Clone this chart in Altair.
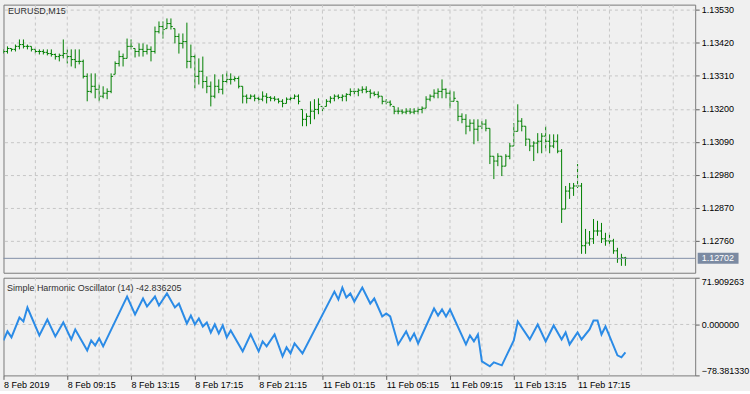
import json
import altair as alt
import pandas as pd

# ---------------- data ----------------
symbol_title = "EURUSD,M15"
osc_title = "Simple Harmonic Oscillator (14) -42.836205"
current_price = 1.12702

bar_index = list(range(157))

open_ = [
 1.13388,1.13391,1.13401,1.13398,1.13408,1.13414,1.13408,1.13408,1.13398,1.13391,
 1.13391,1.13388,1.13384,1.13381,1.13374,1.13378,1.13384,1.13374,1.13364,1.13358,
 1.13358,1.13308,1.13258,1.13275,1.13265,1.13242,1.13252,1.13258,1.13315,1.13351,
 1.13374,1.13368,1.13408,1.13401,1.13391,1.13398,1.13391,1.13398,1.13391,1.13457,
 1.13474,1.13467,1.13484,1.13467,1.13441,1.13418,1.13424,1.13358,1.13374,1.13308,
 1.13325,1.13291,1.13275,1.13242,1.13275,1.13265,1.13291,1.13298,1.13298,1.13301,
 1.13275,1.13242,1.13235,1.13242,1.13235,1.13232,1.13242,1.13238,1.13235,1.13232,
 1.13225,1.13218,1.13232,1.13235,1.13242,1.13198,1.13165,1.13175,1.13192,1.13198,
 1.13208,1.13208,1.13225,1.13235,1.13242,1.13238,1.13242,1.13248,1.13258,1.13258,
 1.13262,1.13265,1.13258,1.13252,1.13248,1.13242,1.13225,1.13222,1.13208,1.13192,
 1.13192,1.13189,1.13192,1.13189,1.13192,1.13198,1.13202,1.13232,1.13242,1.13252,
 1.13258,1.13265,1.13252,1.13225,1.13225,1.13175,1.13165,1.13142,1.13152,1.13132,
 1.13142,1.13149,1.13135,1.13042,1.13026,1.13042,1.13009,1.13042,1.13076,1.13125,
 1.13159,1.13142,1.13099,1.13076,1.13086,1.13092,1.13109,1.13092,1.13076,1.13092,
 1.13059,1.12866,1.12926,1.12936,1.12943,1.12943,1.12744,1.12753,1.12767,1.12793,
 1.12793,1.12767,1.12760,1.12760,1.12727,1.12701,1.12704]

high = [
 1.13398,1.13408,1.13401,1.13414,1.13431,1.13431,1.13414,1.13408,1.13401,1.13398,
 1.13398,1.13398,1.13398,1.13384,1.13384,1.13431,1.13398,1.13398,1.13398,1.13398,
 1.13364,1.13318,1.13318,1.13318,1.13281,1.13275,1.13268,1.13318,1.13358,1.13394,
 1.13384,1.13434,1.13431,1.13401,1.13418,1.13418,1.13414,1.13408,1.13474,1.13491,
 1.13491,1.13501,1.13501,1.13467,1.13451,1.13451,1.13487,1.13414,1.13381,1.13368,
 1.13374,1.13308,1.13291,1.13315,1.13298,1.13315,1.13325,1.13318,1.13308,1.13308,
 1.13275,1.13248,1.13248,1.13248,1.13242,1.13258,1.13252,1.13242,1.13242,1.13235,
 1.13232,1.13238,1.13242,1.13248,1.13248,1.13198,1.13185,1.13225,1.13232,1.13235,
 1.13208,1.13232,1.13242,1.13248,1.13248,1.13248,1.13252,1.13268,1.13268,1.13268,
 1.13275,1.13275,1.13265,1.13258,1.13258,1.13242,1.13232,1.13228,1.13208,1.13205,
 1.13198,1.13202,1.13202,1.13202,1.13205,1.13208,1.13242,1.13248,1.13265,1.13268,
 1.13298,1.13268,1.13262,1.13258,1.13225,1.13185,1.13182,1.13165,1.13165,1.13165,
 1.13159,1.13165,1.13135,1.13042,1.13052,1.13042,1.13049,1.13086,1.13152,1.13215,
 1.13169,1.13142,1.13099,1.13092,1.13119,1.13119,1.13142,1.13115,1.13115,1.13115,
 1.13066,1.12943,1.12953,1.12953,1.13016,1.12953,1.12800,1.12793,1.12833,1.12827,
 1.12820,1.12787,1.12787,1.12767,1.12737,1.12717,1.12707]

low = [
 1.13384,1.13384,1.13391,1.13391,1.13398,1.13401,1.13398,1.13391,1.13384,1.13381,
 1.13381,1.13378,1.13374,1.13364,1.13358,1.13368,1.13351,1.13341,1.13335,1.13348,
 1.13301,1.13225,1.13252,1.13235,1.13225,1.13235,1.13232,1.13252,1.13315,1.13341,
 1.13341,1.13368,1.13398,1.13371,1.13374,1.13374,1.13381,1.13358,1.13384,1.13451,
 1.13434,1.13467,1.13464,1.13418,1.13384,1.13401,1.13335,1.13335,1.13268,1.13281,
 1.13268,1.13252,1.13208,1.13235,1.13252,1.13248,1.13285,1.13281,1.13291,1.13268,
 1.13218,1.13218,1.13232,1.13225,1.13218,1.13225,1.13218,1.13225,1.13225,1.13218,
 1.13205,1.13218,1.13225,1.13232,1.13215,1.13142,1.13142,1.13149,1.13165,1.13182,
 1.13192,1.13208,1.13218,1.13225,1.13232,1.13225,1.13225,1.13242,1.13248,1.13242,
 1.13252,1.13252,1.13235,1.13242,1.13235,1.13215,1.13215,1.13208,1.13182,1.13182,
 1.13182,1.13182,1.13182,1.13182,1.13182,1.13185,1.13202,1.13225,1.13235,1.13235,
 1.13235,1.13235,1.13202,1.13225,1.13159,1.13152,1.13115,1.13125,1.13082,1.13092,
 1.13132,1.13125,1.13016,1.12966,1.13009,1.12976,1.13009,1.13032,1.13076,1.13125,
 1.13125,1.13076,1.13059,1.13026,1.13052,1.13052,1.13059,1.13052,1.13069,1.13052,
 1.12820,1.12866,1.12900,1.12910,1.12936,1.12717,1.12717,1.12744,1.12750,1.12777,
 1.12753,1.12744,1.12750,1.12717,1.12687,1.12677,1.12677]

close = [
 1.13391,1.13401,1.13398,1.13408,1.13414,1.13408,1.13408,1.13398,1.13391,1.13391,
 1.13388,1.13384,1.13381,1.13374,1.13378,1.13384,1.13374,1.13364,1.13358,1.13358,
 1.13308,1.13258,1.13275,1.13265,1.13242,1.13252,1.13258,1.13308,1.13351,1.13374,
 1.13368,1.13408,1.13408,1.13391,1.13398,1.13391,1.13398,1.13391,1.13457,1.13474,
 1.13464,1.13484,1.13474,1.13441,1.13418,1.13424,1.13358,1.13374,1.13308,1.13325,
 1.13291,1.13275,1.13242,1.13275,1.13265,1.13291,1.13298,1.13298,1.13301,1.13275,
 1.13242,1.13235,1.13242,1.13235,1.13232,1.13242,1.13238,1.13235,1.13232,1.13225,
 1.13218,1.13232,1.13235,1.13242,1.13225,1.13165,1.13175,1.13192,1.13198,1.13215,
 1.13202,1.13225,1.13235,1.13242,1.13238,1.13242,1.13248,1.13258,1.13258,1.13262,
 1.13265,1.13258,1.13252,1.13248,1.13242,1.13225,1.13222,1.13215,1.13192,1.13192,
 1.13189,1.13192,1.13189,1.13192,1.13198,1.13202,1.13232,1.13242,1.13252,1.13258,
 1.13265,1.13252,1.13225,1.13235,1.13175,1.13165,1.13142,1.13152,1.13132,1.13142,
 1.13149,1.13135,1.13042,1.13026,1.13042,1.13009,1.13042,1.13076,1.13125,1.13159,
 1.13142,1.13099,1.13076,1.13086,1.13092,1.13109,1.13092,1.13076,1.13092,1.13059,
 1.12866,1.12926,1.12936,1.12943,1.12943,1.12744,1.12753,1.12767,1.12793,1.12793,
 1.12767,1.12760,1.12760,1.12727,1.12701,1.12704,1.12702]

osc_index = [
 0,1,2,4,5,6,9,11,13,15,
 17,18,21,22,23,24,25,31,33,35,
 36,38,39,41,43,44,46,47,48,49,
 50,51,52,53,54,55,56,57,60,62,
 64,65,66,68,70,71,72,73,75,83,
 84,85,86,87,88,90,92,93,95,96,
 97,99,101,102,103,104,108,109,110,111,
 112,116,117,118,119,120,122,123,125,128,
 129,132,134,136,138,140,141,142,144,145,
 147,148,149,150,151,154,155,156]
osc_value = [
 -24.5,-10.7,-19.9,10.7,4.6,26.1,-16.9,7.7,-18.4,3.1,
 -23.0,-7.7,-39.9,-24.5,-32.2,-21.5,-33.7,43.0,15.3,39.9,
 27.6,43.0,29.1,47.6,26.1,32.2,1.5,13.8,0.0,9.2,
 -3.1,3.1,-12.3,0.0,-13.8,-1.5,-19.9,-9.2,-41.4,-15.3,
 -41.4,-26.1,-33.7,-15.3,-49.1,-35.3,-44.5,-29.1,-44.5,50.6,
 38.4,56.8,41.4,47.6,35.3,56.8,32.2,39.9,12.3,16.9,
 12.3,-30.7,-10.7,-24.5,-13.8,-29.1,24.5,13.8,23.0,12.3,
 23.0,-30.7,-16.9,-26.1,-15.3,-56.8,-64.4,-58.3,-62.9,-24.5,
 4.6,-23.0,0.0,-26.1,-1.5,-23.0,-12.3,-30.7,-12.3,-23.0,
 -7.7,6.1,6.1,-15.3,-3.1,-47.6,-50.6,-42.836205]

price_ticks = [1.13530, 1.13420, 1.13310, 1.13200, 1.13090, 1.12980, 1.12870, 1.12760]
osc_ticks = [71.909263, 0.0, -78.381330]
time_tick_index = [0, 16, 32, 48, 64, 80, 96, 112, 128, 144]
time_labels = ["8 Feb 2019", "8 Feb 09:15", "8 Feb 13:15", "8 Feb 17:15", "8 Feb 21:15",
               "11 Feb 01:15", "11 Feb 05:15", "11 Feb 09:15", "11 Feb 13:15", "11 Feb 17:15"]
grid_index = list(range(8, 174, 8))

# ---------------- styling ----------------
W = 694
H_MAIN = 269
H_OSC = 98
FONT = "Liberation Sans"
BG = "#f0f0f0"
GRID = "#c6c6c6"
BAR = "#008000"
LINE = "#2b8be6"
PRICE_LINE = "#8290a8"

xs = alt.Scale(domain=[0, 173.5], nice=False, zero=False)
ys = alt.Scale(domain=[1.12654, 1.13547], nice=False, zero=False)
oys = alt.Scale(domain=[-78.381330, 71.909263], nice=False, zero=False)

bars = pd.DataFrame({"i": bar_index, "open": open_, "high": high, "low": low, "close": close})

price_axis = alt.Axis(orient="right", values=price_ticks, format=".5f", grid=True,
                      gridDash=[3, 3], gridColor=GRID, tickSize=4, tickColor="#606060",
                      domain=False, labelFont=FONT, labelFontSize=9, labelColor="#000000",
                      labelPadding=2, title=None, labelOverlap=False)

label_js = json.dumps(time_labels)
x_axis = alt.Axis(values=time_tick_index, labelExpr=f"{label_js}[round(datum.value/16)]",
                  tickSize=4, tickColor="#606060", labelAlign="left", labelBaseline="top",
                  labelPadding=1, domain=False, grid=False, labelFont=FONT, labelFontSize=9,
                  labelColor="#000000", title=None, labelOverlap=False, labelFlush=False,
                  labelBound=False)
osc_axis = alt.Axis(orient="right", values=osc_ticks, format=".6f", grid=False, tickSize=4,
                    tickColor="#606060", domain=False, labelFont=FONT, labelFontSize=9,
                    labelColor="#000000", labelPadding=2, title=None, labelOverlap=False,
                    labelBaseline={"condition": [{"test": "datum.value > 1", "value": "top"},
                                                 {"test": "datum.value < -1", "value": "bottom"}],
                                   "value": "middle"})

# main panel
vgrid = alt.Chart(pd.DataFrame({"g": grid_index})).mark_rule(
    color=GRID, strokeDash=[3, 3], strokeWidth=1
).encode(x=alt.X("g:Q", scale=xs, axis=None))

hl = alt.Chart(bars).mark_rule(color=BAR, strokeWidth=1, clip=True).encode(
    x=alt.X("i:Q", scale=xs, axis=None),
    y=alt.Y("low:Q", scale=ys, axis=price_axis),
    y2="high:Q",
)
open_tick = alt.Chart(bars).transform_calculate(xl="datum.i - 0.45").mark_rule(
    color=BAR, strokeWidth=1, clip=True).encode(
    x=alt.X("xl:Q", scale=xs, axis=None), x2="i:Q",
    y=alt.Y("open:Q", scale=ys, axis=price_axis))
close_tick = alt.Chart(bars).transform_calculate(xr="datum.i + 0.45").mark_rule(
    color=BAR, strokeWidth=1, clip=True).encode(
    x=alt.X("i:Q", scale=xs, axis=None), x2="xr:Q",
    y=alt.Y("close:Q", scale=ys, axis=price_axis))

cur = pd.DataFrame({"p": [current_price], "t": [f"{current_price:.5f}"]})
price_line = alt.Chart(cur).mark_rule(color=PRICE_LINE, strokeWidth=1).encode(
    y=alt.Y("p:Q", scale=ys, axis=price_axis))
price_box = alt.Chart(cur).mark_rect(color="#7b8aa2", clip=False, yOffset=-5.5, y2Offset=5.5).encode(
    x=alt.value(696.5), x2=alt.value(737.5),
    y=alt.Y("p:Q", scale=ys, axis=price_axis), y2="p:Q")
price_txt = alt.Chart(cur).mark_text(color="#ffffff", font=FONT, fontSize=9, align="left",
                                     baseline="middle", clip=False).encode(
    x=alt.value(700.5), y=alt.Y("p:Q", scale=ys, axis=price_axis), text="t:N")

title_main = alt.Chart(pd.DataFrame({"t": [symbol_title]})).mark_text(
    font=FONT, fontSize=9, color="#303030", align="left", baseline="middle").encode(
    x=alt.value(4.5), y=alt.value(6), text="t:N")

main = alt.layer(hl, open_tick, close_tick, vgrid, price_line, price_box, price_txt,
                 title_main).properties(width=W, height=H_MAIN)

# oscillator panel
osc = pd.DataFrame({"i": osc_index, "v": osc_value})

osc_line = alt.Chart(osc).mark_line(color=LINE, strokeWidth=2, clip=True).encode(
    x=alt.X("i:Q", scale=xs, axis=x_axis),
    y=alt.Y("v:Q", scale=oys, axis=osc_axis))
zero_line = alt.Chart(pd.DataFrame({"z": [0.0]})).mark_rule(
    color=GRID, strokeDash=[3, 3], strokeWidth=1).encode(
    y=alt.Y("z:Q", scale=oys, axis=osc_axis))
osc_vgrid = alt.Chart(pd.DataFrame({"g": grid_index})).mark_rule(
    color=GRID, strokeDash=[3, 3], strokeWidth=1
).encode(x=alt.X("g:Q", scale=xs, axis=x_axis))
title_osc = alt.Chart(pd.DataFrame({"t": [osc_title]})).mark_text(
    font=FONT, fontSize=9, color="#303030", align="left", baseline="middle").encode(
    x=alt.value(3.5), y=alt.value(10), text="t:N")

lower = alt.layer(osc_vgrid, zero_line, osc_line, title_osc).properties(width=W, height=H_OSC)

chart = alt.vconcat(main, lower, spacing=3).configure(
    background=BG, padding={"left": 2.5, "top": 3, "right": 0, "bottom": 0}
).configure_view(stroke="#7a7a7a", fill=BG)

chart.save("out.html", embed_options={"renderer": "svg", "actions": False})
